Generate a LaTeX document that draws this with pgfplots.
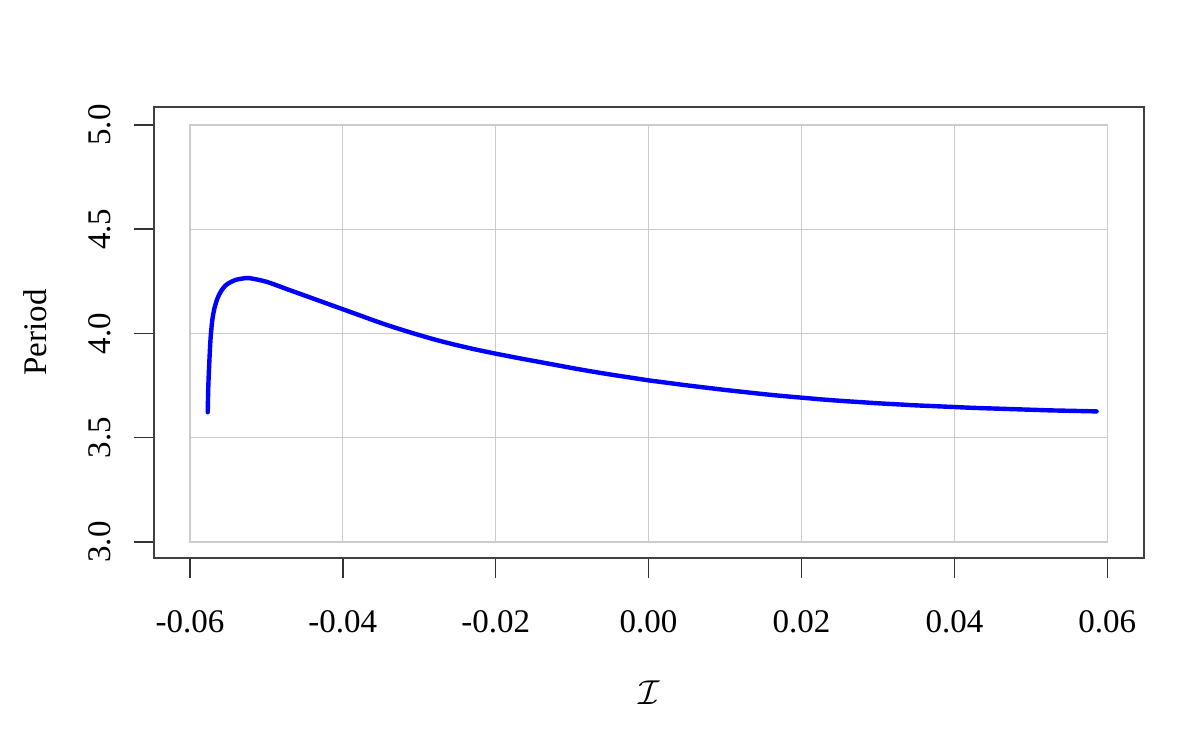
\documentclass[border=0pt]{standalone}
\usepackage{pgfplots}
\pgfplotsset{compat=1.18}
\usepackage{fontspec}
\setmainfont{Liberation Serif}
\begin{document}
\fontsize{16.5}{20}\selectfont
\begin{tikzpicture}
\path[use as bounding box] (0,0) rectangle (598pt,368.5pt);
\begin{axis}[
  at={(77pt,89.5pt)}, anchor=south west,
  scale only axis, width=495pt, height=225.5pt,
  xmin=-0.0647, xmax=0.0648, ymin=2.923, ymax=5.086,
  scaled x ticks=false, scaled y ticks=false,
  axis line style={draw=black!75, line width=0.8pt},
  xtick={-0.06,-0.04,-0.02,0,0.02,0.04,0.06},
  xticklabels={-0.06,-0.04,-0.02,0.00,0.02,0.04,0.06},
  ytick={3,3.5,4,4.5,5},
  yticklabels={3.0,3.5,4.0,4.5,5.0},
  tick align=outside, tick pos=left,
  major tick length=10pt,
  tick style={black!80, line width=0.7pt},
  xticklabel style={anchor=center, yshift=-22pt},
  yticklabel style={xshift=-17pt, rotate=90, anchor=center},
  clip=false,
  xlabel={$\mathcal{I}$},
  ylabel={Period},
  xlabel style={at={(axis description cs:0.5,0)}, anchor=center, yshift=-67.5pt},
  ylabel style={at={(axis description cs:0,0.5)}, anchor=center, xshift=0pt, yshift=59.5pt, rotate=0},
]
\draw[black!20, line width=0.6pt] (axis cs:-0.06,3) rectangle (axis cs:0.06,5);
\draw[black!20, line width=0.6pt] (axis cs:-0.04,3) -- (axis cs:-0.04,5);
\draw[black!20, line width=0.6pt] (axis cs:-0.02,3) -- (axis cs:-0.02,5);
\draw[black!20, line width=0.6pt] (axis cs:0,3) -- (axis cs:0,5);
\draw[black!20, line width=0.6pt] (axis cs:0.02,3) -- (axis cs:0.02,5);
\draw[black!20, line width=0.6pt] (axis cs:0.04,3) -- (axis cs:0.04,5);
\draw[black!20, line width=0.6pt] (axis cs:-0.06,3.5) -- (axis cs:0.06,3.5);
\draw[black!20, line width=0.6pt] (axis cs:-0.06,4) -- (axis cs:0.06,4);
\draw[black!20, line width=0.6pt] (axis cs:-0.06,4.5) -- (axis cs:0.06,4.5);
\addplot[blue, line width=2.2pt, line join=round, line cap=round, smooth, tension=0.5] coordinates {
(-0.05767,3.622)
(-0.05764,3.68)
(-0.05760,3.74)
(-0.05754,3.80)
(-0.05745,3.873)
(-0.05736,3.94)
(-0.05725,4.00)
(-0.05705,4.07)
(-0.05679,4.121)
(-0.05640,4.168)
(-0.05592,4.203)
(-0.05540,4.228)
(-0.05483,4.243)
(-0.05400,4.257)
(-0.05300,4.264)
(-0.05220,4.265)
(-0.05000,4.248)
(-0.04750,4.215)
(-0.04500,4.182)
(-0.04250,4.149)
(-0.04000,4.116)
(-0.03750,4.083)
(-0.03500,4.050)
(-0.03250,4.020)
(-0.03000,3.992)
(-0.02750,3.966)
(-0.02500,3.943)
(-0.02250,3.922)
(-0.02000,3.903)
(-0.01750,3.885)
(-0.01500,3.868)
(-0.01250,3.851)
(-0.01000,3.834)
(-0.00750,3.818)
(-0.00500,3.803)
(-0.00250,3.789)
(0.0000,3.775)
(0.0025,3.763)
(0.0050,3.751)
(0.0075,3.740)
(0.0100,3.729)
(0.0125,3.719)
(0.0150,3.709)
(0.0175,3.700)
(0.0200,3.692)
(0.0225,3.684)
(0.0250,3.677)
(0.0275,3.671)
(0.0300,3.665)
(0.0325,3.660)
(0.0350,3.655)
(0.0375,3.651)
(0.0400,3.647)
(0.0425,3.643)
(0.0450,3.640)
(0.0475,3.637)
(0.0500,3.634)
(0.0525,3.631)
(0.0550,3.629)
(0.0575,3.627)
(0.0586,3.626)
};
\end{axis}
\end{tikzpicture}
\end{document}
